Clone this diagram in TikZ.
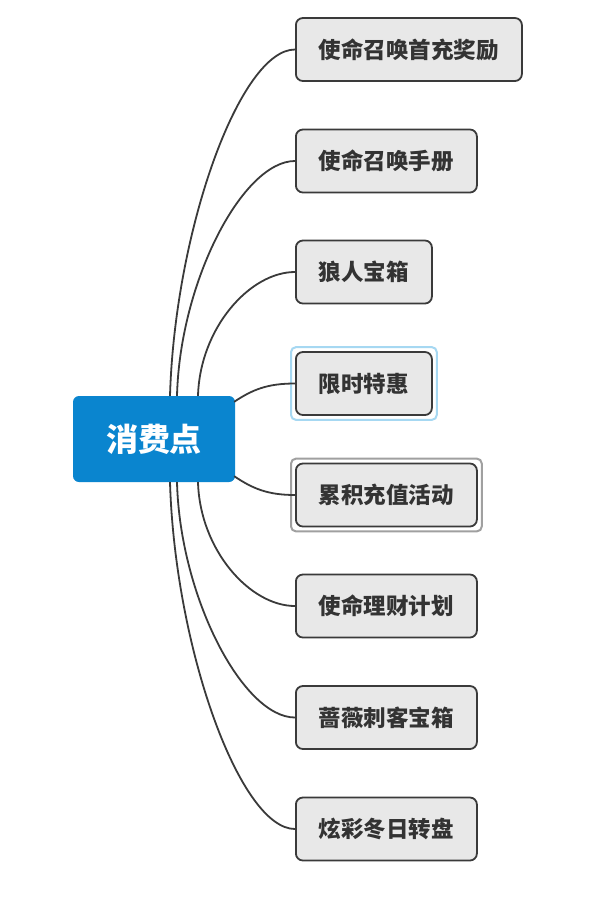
\documentclass[tikz,border=0pt]{standalone}
\usepackage{fontspec}
\setmainfont{Noto Sans CJK SC}
\usetikzlibrary{calc,fit}
\definecolor{rootblue}{HTML}{0A85CF}
\definecolor{leaffill}{HTML}{E8E8E8}
\definecolor{leafline}{HTML}{3A3A3A}
\definecolor{leaftext}{HTML}{333333}
\definecolor{selblue}{HTML}{A6D8F2}
\definecolor{selgray}{HTML}{A0A0A0}
\tikzset{
  rootbox/.style={fill=rootblue, rounded corners=6pt, minimum width=162pt, minimum height=86pt,
    text=white, font=\fontsize{32}{36}\selectfont\bfseries, inner sep=0pt},
  leafbox/.style={draw=leafline, line width=1.8pt, fill=leaffill, rounded corners=7pt,
    minimum height=63pt, inner xsep=23pt, inner ysep=0pt, anchor=west,
    text=leaftext, font=\fontsize{22.5}{26}\selectfont\bfseries},
  link/.style={draw=leafline, line width=1.8pt},
  selbox/.style={draw=#1, line width=2pt, rounded corners=5pt, inner sep=4pt},
}
\begin{document}
\begin{tikzpicture}[x=1pt,y=-1pt]
\useasboundingbox (0,0) rectangle (599,898);
\fill[white] (0,0) rectangle (599,898);
\node[rootbox] (c) at (154,439) {消费点};
\node[leafbox] (n1) at (295,49.5) {使命召唤首充奖励};
\node[leafbox] (n2) at (295,161) {使命召唤手册};
\node[leafbox] (n3) at (295,272) {狼人宝箱};
\node[leafbox] (n4) at (295,383.5) {限时特惠};
\node[leafbox] (n5) at (295,495) {累积充值活动};
\node[leafbox] (n6) at (295,606) {使命理财计划};
\node[leafbox] (n7) at (295,717.5) {蔷薇刺客宝箱};
\node[leafbox] (n8) at (295,829) {炫彩冬日转盘};
\node[selbox=selblue, fit=(n4)] (s4) {};
\node[selbox=selgray, fit=(n5)] (s5) {};
\draw[link] ($(c.north)+(16,0)$) .. controls +(5,-166) and +(-55,0) .. (n1.west);
\draw[link] ($(c.north)+(23,0)$) .. controls +(3,-115) and +(-52,0) .. (n2.west);
\draw[link] ($(c.north)+(44,0)$) .. controls +(2,-68) and +(-45,0) .. (n3.west);
\draw[link] ($(c.north east)+(-1,6)$) .. controls +(18,-12) and +(-28,0) .. (n4.west);
\draw[link] ($(c.south east)+(-1,-6)$) .. controls +(18,12) and +(-28,0) .. (n5.west);
\draw[link] ($(c.south)+(44,0)$) .. controls +(2,68) and +(-45,0) .. (n6.west);
\draw[link] ($(c.south)+(23,0)$) .. controls +(3,115) and +(-52,0) .. (n7.west);
\draw[link] ($(c.south)+(16,0)$) .. controls +(5,166) and +(-55,0) .. (n8.west);
\end{tikzpicture}
\end{document}
